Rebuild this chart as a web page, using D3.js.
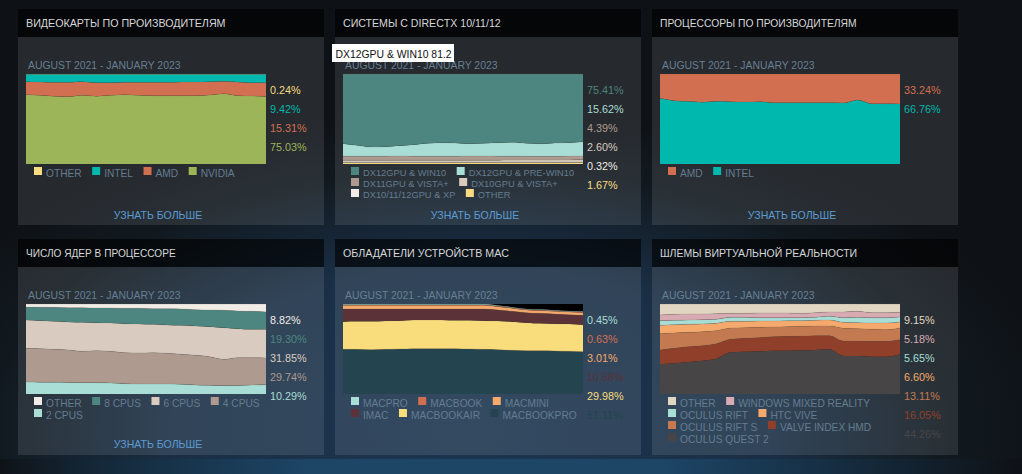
<!DOCTYPE html>
<html><head><meta charset="utf-8">
<script src="https://cdn.jsdelivr.net/npm/d3@7"></script>
<style>
html,body{margin:0;padding:0;width:1022px;height:474px;overflow:hidden;background:#0f1318}
svg{display:block;font-family:"Liberation Sans",Arial,sans-serif}
</style></head><body><svg id="c" width="1022" height="474"></svg>
<script>
const dateRange = "AUGUST 2021 - JANUARY 2023";
const moreLabel = "УЗНАТЬ БОЛЬШЕ";
const months = ["2021-08","2021-09","2021-10","2021-11","2021-12","2022-01","2022-02","2022-03","2022-04","2022-05","2022-06","2022-07","2022-08","2022-09","2022-10","2022-11","2022-12","2023-01"];

// Each series is listed top of the stack first, as in the legend.
const gpuNames = ["OTHER","INTEL","AMD","NVIDIA"];
const gpuColors = ["#f7dc83","#00b8ae","#d36f51","#9db559"];
const gpuLabels = ["0.24%","9.42%","15.31%","75.03%"];
const gpuOther  = [.3,.3,.3,.3,.3,.3,.3,.3,.3,.3,.3,.3,.3,.3,.3,.3,.3,.24];
const gpuIntel  = [8.2,8.6,9.0,9.0,8.2,9.3,9.3,9.0,9.0,9.0,9.0,8.6,8.6,8.2,7.8,8.6,9.3,9.42];
const gpuAmd    = [14.5,14.8,15.5,15.9,15.2,15.2,14.1,13.7,14.4,14.8,14.8,15.2,15.2,14.8,13.8,15.2,14.8,15.31];
const gpuNvidia = [77.0,76.3,75.2,74.8,76.3,75.2,76.3,77.0,76.3,75.9,75.9,75.9,75.9,76.7,78.1,75.9,75.6,75.03];

const dxNames = ["DX12GPU & WIN10","DX12GPU & PRE-WIN10","DX11GPU & VISTA+","DX10GPU & VISTA+","DX10/11/12GPU & XP","OTHER"];
const dxColors = ["#4d8680","#a8ded6","#ae9a8e","#d9cbbf","#f1ece6","#f7dc83"];
const dxLabels = ["75.41%","15.62%","4.39%","2.60%","0.32%","1.67%"];
const dxWin10 = [77.4,79.3,81.2,80.7,79.6,78.5,77.0,76.3,76.7,77.4,77.0,76.3,75.9,77.0,77.4,76.7,76.3,75.41];
const dxPre   = [13.9,12.0,10.1,10.6,11.6,12.8,14.3,15.0,14.6,13.8,14.2,15.0,15.35,14.35,14.1,14.8,14.9,15.62];
const dx11    = [4.6,4.6,4.6,4.6,4.6,4.5,4.5,4.5,4.5,4.5,4.5,4.4,4.4,4.2,4.1,4.1,4.3,4.39];
const dx10    = [2.2,2.2,2.2,2.2,2.3,2.3,2.3,2.3,2.3,2.4,2.4,2.4,2.4,2.5,2.5,2.5,2.6,2.60];
const dxXp    = [.4,.4,.4,.4,.4,.4,.4,.4,.35,.35,.35,.35,.35,.35,.3,.3,.3,.32];
const dxOther = [1.5,1.5,1.5,1.5,1.5,1.5,1.5,1.5,1.55,1.55,1.55,1.55,1.6,1.6,1.6,1.6,1.6,1.67];

const cpuNames = ["AMD","INTEL"];
const cpuColors = ["#d36f51","#00b8ae"];
const cpuLabels = ["33.24%","66.76%"];
const cpuAmd   = [27.0,29.6,30.4,31.5,30.4,30.7,31.1,30.7,31.9,31.9,31.9,31.9,32.0,32.2,28.9,33.0,33.0,33.24];
const cpuIntel = [73.0,70.4,69.6,68.5,69.6,69.3,68.9,69.3,68.1,68.1,68.1,68.1,68.0,67.8,71.1,67.0,67.0,66.76];

const coreNames = ["OTHER","8 CPUS","6 CPUS","4 CPUS","2 CPUS"];
const coreColors = ["#f1ece6","#4d8680","#d9cbbf","#ae9a8e","#a8ded6"];
const coreLabels = ["8.82%","19.30%","31.85%","29.74%","10.29%"];
const coreOther = [3.3,3.5,3.7,4.1,4.1,4.4,4.4,4.8,4.8,5.2,5.2,5.6,6.3,6.7,7.0,7.8,8.1,8.82];
const core8 = [14.5,15.0,15.6,15.9,16.3,16.3,16.7,17.1,17.4,17.4,18.1,18.1,18.1,18.5,19.3,19.6,20.0,19.30];
const core6 = [31.5,31.1,31.1,31.1,32.2,31.2,31.5,32.2,32.2,31.5,31.5,32.2,32.6,33.3,35.2,32.2,31.5,31.85];
const core4 = [37.4,37.3,36.6,36.1,34.8,35.5,35.2,34.4,34.5,34.8,34.1,33.4,33.0,31.9,29.2,31.0,30.4,29.74];
const core2 = [13.3,13.1,13.0,12.8,12.6,12.6,12.2,11.5,11.1,11.1,11.1,10.7,10.0,9.6,9.3,9.4,10.0,10.29];

const macNames = ["MACPRO","MACBOOK","MACMINI","IMAC","MACBOOKAIR","MACBOOKPRO"];
const macColors = ["#a8ded6","#d36f51","#f5a96c","#5a3237","#f9dc7c","#24444f"];
const macLabels = ["0.45%","0.63%","3.01%","10.58%","29.98%","51.11%"];
const macPro  = [.7,.7,.7,.7,.7,.7,.7,.7,.7,.7,.7,.6,.6,.5,.5,.5,.45,.45];
const macBook = [.8,.8,.8,.8,.8,.8,.8,.8,.8,.8,.8,.7,.7,.7,.7,.7,.63,.63];
const macMini = [4.1,4.1,4.1,4.1,4.1,4.1,4.1,4.1,4.1,4.1,4.1,3.7,3.3,2.9,3.0,3.0,3.0,3.01];
const macImac = [14.0,13.7,13.7,13.3,12.9,12.2,12.2,12.2,12.5,12.5,12.9,12.2,11.5,11.1,11.1,10.8,10.3,10.58];
const macAir  = [30.8,31.1,31.4,31.5,31.5,31.8,31.8,31.8,31.5,31.9,31.9,31.8,31.9,31.2,30.4,30.3,30.4,29.98];
const macBookPro = [49.6,49.6,49.3,49.6,50.0,50.4,50.4,50.4,50.4,50.0,49.6,49.3,48.5,48.1,48.1,47.8,47.4,47.0];

const vrNames = ["OTHER","WINDOWS MIXED REALITY","OCULUS RIFT","HTC VIVE","OCULUS RIFT S","VALVE INDEX HMD","OCULUS QUEST 2"];
const vrColors = ["#e1d6c1","#d8abb2","#a8ded6","#f5a96c","#c47a50","#8f3f2a","#484546"];
const vrLabels = ["9.15%","5.18%","5.65%","6.60%","13.11%","16.05%","44.26%"];
const vrOther = [12.2,11.5,11.1,11.1,10.7,10.4,10.4,10,10,10,10.4,9.6,8.9,8.9,8.1,9.6,9.6,9.15];
const vrWmr   = [6.3,6.6,6.7,6.3,6.3,4.4,4.4,5.2,5.2,5.2,4.8,5.2,4.8,6.3,6.7,5.6,5.6,5.18];
const vrRift  = [5.2,4.9,4.8,4.8,4.5,4.5,4.5,3.7,3.7,3.3,3.3,3.3,4.1,5.2,5.9,5.9,5.9,5.65];
const vrVive  = [9.3,9.2,8.9,8.5,8.1,7.4,7.0,7.0,6.7,6.7,6.3,6.3,6.6,6.6,6.7,7.0,7.4,6.60];
const vrRiftS = [18.1,17.1,15.9,15.6,14.5,12.6,11.8,11.5,10.7,10.7,10.8,10.8,10.8,14.1,13.7,13.4,13.0,13.11];
const vrValve = [15.9,16.6,17.0,16.7,16.6,14.4,14.9,15.2,15.6,16.0,15.9,15.9,15.2,16.7,16.7,17.0,17.0,16.05];
const vrQuest = [33.0,34.1,35.6,37.0,39.3,46.3,47.0,47.4,48.1,48.1,48.5,48.9,49.6,42.2,42.2,41.5,41.5,44.26];

const panels = [
 {title:"ВИДЕОКАРТЫ ПО ПРОИЗВОДИТЕЛЯМ",ts:10.7,names:gpuNames,colors:gpuColors,labels:gpuLabels,series:[gpuOther,gpuIntel,gpuAmd,gpuNvidia],col:0,row:0,rows:[4],more:true},
 {title:"СИСТЕМЫ С DIRECTX 10/11/12",ts:10.6,names:dxNames,colors:dxColors,labels:dxLabels,series:[dxWin10,dxPre,dx11,dx10,dxXp,dxOther],col:1,row:0,rows:[2,2,2],rowGap:11,legendSize:9.3,more:true},
 {title:"ПРОЦЕССОРЫ ПО ПРОИЗВОДИТЕЛЯМ",ts:10.3,names:cpuNames,colors:cpuColors,labels:cpuLabels,series:[cpuAmd,cpuIntel],col:2,row:0,rows:[2],more:true},
 {title:"ЧИСЛО ЯДЕР В ПРОЦЕССОРЕ",ts:10.1,names:coreNames,colors:coreColors,labels:coreLabels,series:[coreOther,core8,core6,core4,core2],col:0,row:1,rows:[4,1],more:true},
 {title:"ОБЛАДАТЕЛИ УСТРОЙСТВ MAC",ts:10.7,names:macNames,colors:macColors,labels:macLabels,series:[macPro,macBook,macMini,macImac,macAir,macBookPro],col:1,row:1,rows:[3,3],more:false},
 {title:"ШЛЕМЫ ВИРТУАЛЬНОЙ РЕАЛЬНОСТИ",ts:10.5,names:vrNames,colors:vrColors,labels:vrLabels,series:[vrOther,vrWmr,vrRift,vrVive,vrRiftS,vrValve,vrQuest],col:2,row:1,rows:[2,2,2,1],more:false}
];

const svg = d3.select("#c");
const defs = svg.append("defs");
const bg = defs.append("radialGradient").attr("id","bg").attr("gradientUnits","userSpaceOnUse")
  .attr("cx",470).attr("cy",430).attr("r",600)
  .attr("gradientTransform","translate(470 430) scale(1 .55) translate(-470 -430)");
[[0,"#1c3650"],[.5,"#1a2f46"],[.8,"#11191f"],[1,"#0e1116"]].forEach(([o,c])=>bg.append("stop").attr("offset",o).attr("stop-color",c));
const band = defs.append("linearGradient").attr("id","band");
[[0,"#0f1318"],[.1,"#14293a"],[.3,"#1d4566"],[.65,"#1d4566"],[.85,"#14293a"],[1,"#0e1116"]].forEach(([o,c])=>band.append("stop").attr("offset",o).attr("stop-color",c));

svg.append("rect").attr("width",1022).attr("height",474).attr("fill","url(#bg)");
svg.append("rect").attr("y",459).attr("width",1022).attr("height",15).attr("fill","url(#band)");

const colX = [18,335,652], rowY = [9,239];
const panelW = 306, headH = 28, bodyH = 188, plotW = 240, plotH = 90;

panels.forEach(p=>{
  const px = colX[p.col], py = rowY[p.row];
  const g = svg.append("g").attr("transform",`translate(${px},${py})`);
  g.append("rect").attr("width",panelW).attr("height",headH).attr("fill","#000").attr("fill-opacity",.62);
  g.append("rect").attr("y",headH).attr("width",panelW).attr("height",bodyH).attr("fill","#fff").attr("fill-opacity",.1);
  g.append("text").attr("x",8).attr("y",18).attr("font-size",p.ts).attr("fill","#d6d7d8").text(p.title);
  g.append("text").attr("x",10).attr("y",60).attr("font-size",10.4).attr("fill","#667f93").text(dateRange);

  const plot = g.append("g").attr("transform","translate(8,65)");
  const x = d3.scalePoint().domain(months).range([0,plotW]);
  const y = d3.scaleLinear().domain([0,100]).range([plotH,0]);
  plot.append("rect").attr("width",plotW).attr("height",plotH).attr("fill","#000");

  const rows = months.map((m,i)=>{const o={month:m};p.names.forEach((n,k)=>o[n]=p.series[k][i]);return o;});
  const stack = d3.stack().keys([...p.names].reverse())(rows);
  const area = d3.area().x(d=>x(d.data.month)).y0(d=>y(d[0])).y1(d=>y(d[1])).curve(d3.curveMonotoneX);
  const top = d3.line().x(d=>x(d.data.month)).y(d=>y(d[1])).curve(d3.curveMonotoneX);
  stack.forEach(layer=>{
    const c = p.colors[p.names.indexOf(layer.key)];
    plot.append("path").attr("d",area(layer)).attr("fill",c);
  });
  stack.forEach(layer=>{
    plot.append("path").attr("d",top(layer)).attr("fill","none").attr("stroke","#5a5a55").attr("stroke-opacity",.3).attr("stroke-width",.6);
  });

  p.labels.forEach((t,i)=>{
    g.append("text").attr("x",plotW+12).attr("y",85+i*19).attr("font-size",10.8).attr("fill",p.colors[i]).text(t);
  });

  // Legend flows in rows, measured from the real text widths.
  let idx = 0;
  const gap = p.rowGap||12;
  const lg = g.append("g");
  p.rows.forEach((n,r)=>{
    let cx = 16;
    for(let k=0;k<n;k++,idx++){
      const yy = 158+r*gap;
      lg.append("rect").attr("x",cx).attr("y",yy).attr("width",8).attr("height",8).attr("fill",p.colors[idx]);
      const t = lg.append("text").attr("x",cx+12).attr("y",yy+(p.rowGap?9:10)).attr("font-size",p.legendSize||10.2).attr("fill","#637c90").text(p.names[idx]);
      cx += 12 + t.node().getComputedTextLength() + 10.5;
    }
  });

  if(p.more) g.append("text").attr("x",140).attr("y",p.row?209:210).attr("text-anchor","middle").attr("font-size",10.55).attr("fill","#5c9cd2").text(moreLabel);
});

// Hover tooltip shown in the reference.
const tip = svg.append("g").attr("transform","translate(332,44)");
tip.append("rect").attr("width",122).attr("height",18).attr("fill","#fff");
tip.append("text").attr("x",3.5).attr("y",13.5).attr("font-size",10.4).attr("fill","#111").text(dxNames[0]+" "+d3.max(dxWin10));
</script></body></html>
